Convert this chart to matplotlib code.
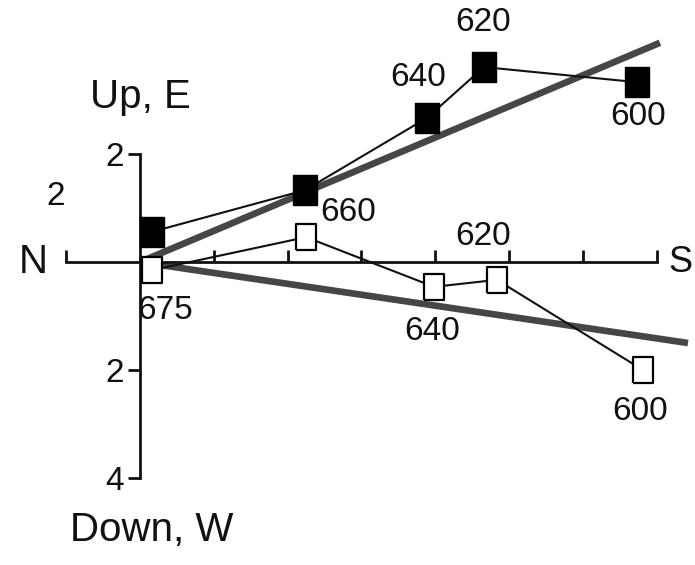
import numpy as np
import matplotlib
matplotlib.use('Agg')
import matplotlib.pyplot as plt

# demagnetisation steps (temperature, deg C)
steps = ['675', '660', '640', '620', '600']

# horizontal projection (N-S vs E-W), solid symbols
hor_ns = [0.33, 4.47, 7.78, 9.32, 13.47]
hor_ew = [0.56, 1.33, 2.67, 3.61, 3.33]

# vertical projection (N-S vs Up-Down), open symbols
ver_ns = [0.33, 4.50, 7.97, 9.67, 13.63]
ver_ud = [-0.15, 0.46, -0.46, -0.33, -2.00]

# best-fit component directions (end points from the origin)
fit_hor_end = [14.09, 4.06]
fit_ver_end = [14.85, -1.50]

x_ticks = [-2, 2, 4, 6, 8, 10, 12, 14]
y_ticks = [2, -2, -4]
y_tick_labels = ['2', '2', '4']

# label offsets in points, per step
hor_labels = {'640': (-6.5, 29), '620': (-0.7, 32), '600': (0.7, -25)}
ver_labels = {'675': (9.4, -29), '660': (30, 18), '640': (-1.4, -32),
              '620': (-10, 31), '600': (-2, -30)}

plt.rcParams['font.family'] = ['Liberation Sans', 'DejaVu Sans']
INK = '#111111'
NUM_FS = 24
NAME_FS = 29
SQ = [(-0.385, -0.5), (0.385, -0.5), (0.385, 0.5), (-0.385, 0.5), (-0.385, -0.5)]

fig = plt.figure(figsize=(6.95, 5.65), dpi=100, facecolor='white')
ax = fig.add_axes([0, 0, 1, 1])
ax.set_xlim(-3.794, 15.04)
ax.set_ylim(-5.611, 4.852)

# axes crossing at the origin
for side in ['top', 'right']:
    ax.spines[side].set_visible(False)
ax.spines['left'].set_position(('data', 0))
ax.spines['bottom'].set_position(('data', 0))
ax.spines['left'].set_bounds(-4, 2)
ax.spines['bottom'].set_bounds(-2, 14)
for side in ['left', 'bottom']:
    ax.spines[side].set_linewidth(2)
    ax.spines[side].set_color(INK)
ax.set_xticks(x_ticks)
ax.set_xticklabels([])
ax.tick_params(axis='x', direction='in', length=8.5, width=2, color=INK)
ax.set_yticks(y_ticks)
ax.set_yticklabels(y_tick_labels)
ax.tick_params(axis='y', direction='out', length=8.5, width=2, color=INK,
               labelsize=NUM_FS, labelcolor=INK, pad=3)

# fitted lines
ax.plot([0, fit_hor_end[0]], [0, fit_hor_end[1]], color='#464646', lw=4.8,
        solid_capstyle='butt', zorder=2)
ax.plot([0, fit_ver_end[0]], [0, fit_ver_end[1]], color='#464646', lw=4.8,
        solid_capstyle='butt', zorder=2)

ax.plot(hor_ns, hor_ew, '-', color=INK, lw=1.5, zorder=3)
ax.plot(hor_ns, hor_ew, ls='none', marker=SQ, ms=22, mfc='black', mec='black',
        mew=1, zorder=4)
ax.plot(ver_ns, ver_ud, '-', color=INK, lw=1.5, zorder=3)
ax.plot(ver_ns, ver_ud, ls='none', marker=SQ, ms=19, mfc='white', mec='black',
        mew=1.6, zorder=4)

for i, s in enumerate(steps):
    if s in hor_labels:
        ax.annotate(s, (hor_ns[i], hor_ew[i]), xytext=hor_labels[s],
                    textcoords='offset points', ha='center', va='center',
                    fontsize=NUM_FS, color=INK)
    if s in ver_labels:
        ax.annotate(s, (ver_ns[i], ver_ud[i]), xytext=ver_labels[s],
                    textcoords='offset points', ha='center', va='center',
                    fontsize=NUM_FS, color=INK)

# axis names
ax.annotate('2', (-2, 0), xytext=(-0.7, 36), textcoords='offset points',
            ha='right', va='bottom', fontsize=NUM_FS, color=INK)
ax.text(-2.9, 0, 'N', ha='center', va='center', fontsize=NAME_FS, color=INK)
ax.text(14.97, 0, 'S', ha='right', va='center', fontsize=NAME_FS - 3, color=INK)
ax.text(0, 3.06, 'Up, E', ha='center', va='center', fontsize=NAME_FS, color=INK)
ax.text(0.33, -4.96, 'Down, W', ha='center', va='center', fontsize=NAME_FS, color=INK)

fig.savefig('out.png', dpi=100, facecolor='white')
